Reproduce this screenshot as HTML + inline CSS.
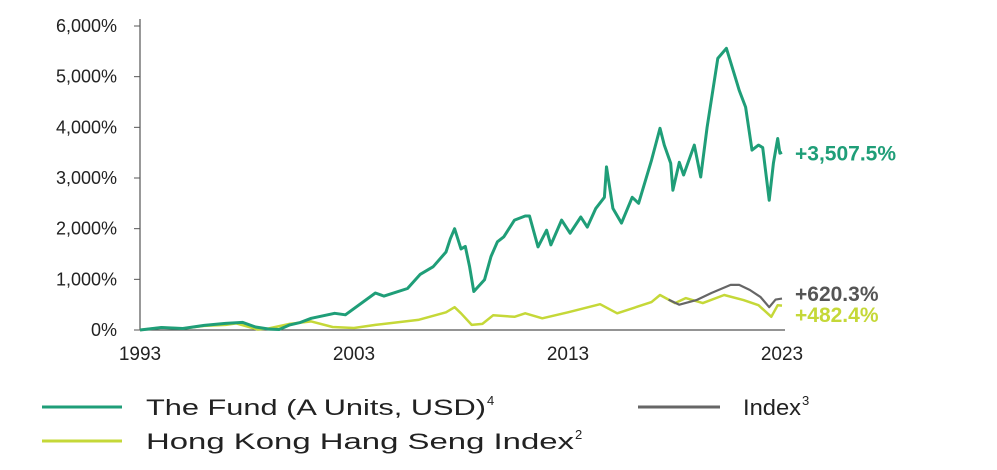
<!DOCTYPE html>
<html><head><meta charset="utf-8"><style>
html,body{margin:0;padding:0;background:#fff;width:997px;height:470px;overflow:hidden}
text{font-family:"Liberation Sans",sans-serif}
</style></head><body>
<svg id="chart" width="997" height="470" viewBox="0 0 997 470" xmlns="http://www.w3.org/2000/svg">
<g id="axes"></g>
<g id="series"></g>
<g id="legend">
 <line x1="42" y1="407" x2="122" y2="407" stroke="#1f9e78" stroke-width="3"/>
 <text x="146" y="415" font-size="22" fill="#222" textLength="340" lengthAdjust="spacingAndGlyphs">The Fund (A Units, USD)</text>
 <text x="487" y="405" font-size="13" fill="#222">4</text>
 <line x1="638" y1="407" x2="720" y2="407" stroke="#666" stroke-width="3"/>
 <text x="743" y="415" font-size="22" fill="#222" textLength="58" lengthAdjust="spacingAndGlyphs">Index</text>
 <text x="802" y="405" font-size="13" fill="#222">3</text>
 <line x1="42" y1="441" x2="122" y2="441" stroke="#c5d838" stroke-width="3"/>
 <text x="146" y="449" font-size="22" fill="#222" textLength="428" lengthAdjust="spacingAndGlyphs">Hong Kong Hang Seng Index</text>
 <text x="575" y="439" font-size="13" fill="#222">2</text>
</g>
</svg>
<script>
const yTicks=[0,1000,2000,3000,4000,5000,6000];
const yTickLabels=["0%","1,000%","2,000%","3,000%","4,000%","5,000%","6,000%"];
const xTicks=[1993,2003,2013,2023];
const fundYears=[1993,1994,1995,1996,1997,1997.8,1998.4,1999,1999.5,2000,2000.5,2001,2002.1,2002.6,2004,2004.4,2005.5,2006.1,2006.7,2007.3,2007.5,2007.7,2008,2008.2,2008.4,2008.6,2009.1,2009.4,2009.7,2010,2010.5,2011,2011.2,2011.6,2012,2012.2,2012.7,2013.1,2013.6,2013.9,2014.3,2014.7,2014.8,2015.1,2015.5,2016,2016.3,2016.9,2017.3,2017.5,2017.8,2017.9,2018.2,2018.4,2018.9,2019.2,2019.5,2020,2020.4,2020.9,2021.0,2021.3,2021.6,2021.9,2022.1,2022.4,2022.6,2022.8,2022.9,2023];
const fundValues=[0,50,30,90,130,150,60,20,10,100,150,230,330,300,730,670,820,1100,1250,1540,1800,2000,1600,1650,1250,760,990,1450,1740,1840,2170,2250,2250,1640,1970,1680,2170,1910,2230,2030,2400,2620,3220,2400,2110,2620,2500,3350,3980,3650,3290,2760,3310,3060,3650,3020,4000,5360,5560,4870,4730,4400,3550,3650,3600,2560,3290,3780,3490,3507.5];
const hsiYears=[1993,1994,1995,1996,1997,1997.5,1998.5,1999,2000,2001,2002,2003,2004,2006,2007.3,2007.7,2008,2008.5,2009,2009.5,2010.5,2011,2011.8,2013,2014.5,2015.3,2016.9,2017.3,2018,2018.5,2019.3,2020.3,2021.2,2021.9,2022.5,2022.8,2023];
const hsiValues=[0,50,30,80,100,130,10,30,120,170,60,40,100,200,350,450,330,100,120,290,260,330,230,350,510,330,550,690,530,630,530,690,590,490,260,490,482.4];
const indexYears=[2017.7,2018.2,2019,2019.7,2020.6,2021.0,2021.5,2022,2022.4,2022.7,2023];
const indexValues=[600,500,590,730,890,890,790,650,450,600,620.3];

const NS="http://www.w3.org/2000/svg";
const X0=140,X1=782,Y0=330,Y1=26;
const xs=y=>X0+(y-1993)/(2023-1993)*(X1-X0);
const ys=v=>Y0-v/6000*(Y0-Y1);
function mk(tag,attrs,parent){const e=document.createElementNS(NS,tag);for(const k in attrs)e.setAttribute(k,attrs[k]);parent.appendChild(e);return e;}
const axes=document.getElementById('axes'),series=document.getElementById('series');
let yl=mk('line',{x1:X0,y1:19,x2:X0,y2:Y0,stroke:'#555','stroke-width':1.2},axes);


let xl=mk('line',{x1:X0,y1:Y0,x2:X1+3,y2:Y0,stroke:'#555','stroke-width':1.2},axes);


yTicks.forEach((v,i)=>{
 const t=mk('line',{x1:X0-6,y1:ys(v),x2:X0,y2:ys(v),stroke:'#555','stroke-width':1},axes);
 
 
 const l=mk('text',{x:117,y:ys(v)+6,'text-anchor':'end','font-size':18,fill:'#222'},axes);
 l.textContent=yTickLabels[i];
 
 
});
xTicks.forEach(y=>{
 const l=mk('text',{x:xs(y),y:360,'text-anchor':'middle','font-size':19,fill:'#222'},axes);
 l.textContent=String(y);
 
 
});
function line(xsArr,vs,color,w,name){
 const d=xsArr.map((y,i)=>(i?'L':'M')+xs(y).toFixed(1)+','+ys(vs[i]).toFixed(1)).join('');
 const p=mk('path',{d:d,fill:'none',stroke:color,'stroke-width':w,'stroke-linejoin':'round'},series);
 
 
}
line(hsiYears,hsiValues,'#c5d838',2.5,'hsi-line');
line(indexYears,indexValues,'#666',2.2,'index-line');
line(fundYears,fundValues,'#1f9e78',3,'fund-line');
function endLabel(txt,y,color,name){
 const l=mk('text',{x:795,y:y,'font-size':21,'font-weight':'bold',fill:color},series);
 l.textContent=txt;
 
 
}
endLabel('+3,507.5%',ys(fundValues[fundValues.length-1])+8,'#1f9e78','fund-end-label');
endLabel('+620.3%',301,'#555','index-end-label');
endLabel('+482.4%',322,'#c5d838','hsi-end-label');
</script>
</body></html>
